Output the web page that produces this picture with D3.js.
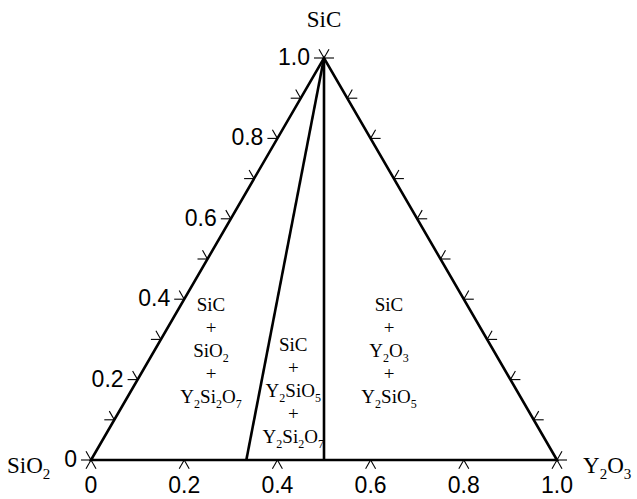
<!DOCTYPE html>
<html>
<head>
<meta charset="utf-8">
<script src="https://cdn.jsdelivr.net/npm/d3@7"></script>
<style>
  body { margin: 0; background: #fff; }
</style>
</head>
<body>
<div id="container"></div>
<script>
/* CONSTANTS AND GLOBALS */
const width = 637,
  height = 499,
  margin = {top: 58, bottom: 39, left: 91, right: 80},
  tickLen = 10;

/* DATA */
// corners of the diagram: bottom-left, bottom-right, top
const vertexNames = ["SiO2", "Y2O3", "SiC"];
// compounds on the SiO2-Y2O3 edge, tied to the SiC corner
const compounds = ["Y2Si2O7", "Y2SiO5"];
const compoundY2O3 = [1 / 3, 0.5];
// ticks along the edges
const edgeTicks = [0, 0.1, 0.2, 0.3, 0.4, 0.5, 0.6, 0.7, 0.8, 0.9, 1.0];
const bottomTicks = [0, 0.2, 0.4, 0.6, 0.8, 1.0];
const tickLabels = [0, 0.2, 0.4, 0.6, 0.8, 1.0];
// phase fields and where their labels sit (Y2O3, SiC fractions)
const regionPhases = [
  ["SiC", "+", "SiO2", "+", "Y2Si2O7"],
  ["SiC", "+", "Y2SiO5", "+", "Y2Si2O7"],
  ["SiC", "+", "Y2O3", "+", "Y2SiO5"]
];
const regionY2O3 = [0.122, 0.348, 0.504];
const regionSiC = [0.271, 0.172, 0.271];

/* SCALES */
const xScale = d3.scaleLinear()
  .domain([0, 1])
  .range([margin.left, width - margin.right]);

const yScale = d3.scaleLinear()
  .domain([0, 1])
  .range([height - margin.bottom, margin.top]);

// ternary -> screen (b = Y2O3 fraction, c = SiC fraction)
function pt(b, c) {
  return [xScale(b + c / 2), yScale(c)];
}

const fmt = d => d === 0 ? "0" : d3.format(".1f")(d);

// write a formula with numbers as subscripts
function formula(sel, str, subSize, shift) {
  const parts = str.match(/\d+|\D+/g);
  let down = false;
  parts.forEach(p => {
    const isNum = /^\d+$/.test(p);
    const t = sel.append("tspan").text(p);
    if (isNum) {
      t.attr("font-size", subSize).attr("dy", shift);
      down = true;
    } else if (down) {
      t.attr("dy", -shift);
      down = false;
    }
  });
}

/* SVG */
const svg = d3.select("#container")
  .append("svg")
  .attr("width", width)
  .attr("height", height);

/* TICKS */
const tickG = svg.append("g")
  .attr("stroke", "#000")
  .attr("stroke-width", 1.1)
  .attr("fill", "none");

const dirs = {
  left: [[-1, 0], [-0.5, -0.866]],
  right: [[1, 0], [0.5, -0.866]],
  bottom: [[-0.5, 0.866], [0.5, 0.866]]
};

function drawTicks(values, toPoint, dd) {
  values.forEach(v => {
    const p = toPoint(v);
    dd.forEach(d => {
      tickG.append("line")
        .attr("x1", p[0]).attr("y1", p[1])
        .attr("x2", p[0] + d[0] * tickLen)
        .attr("y2", p[1] + d[1] * tickLen);
    });
  });
}

drawTicks(edgeTicks, v => pt(0, v), dirs.left);
drawTicks(edgeTicks, v => pt(1 - v, v), dirs.right);
drawTicks(bottomTicks, v => pt(v, 0), dirs.bottom);

/* TRIANGLE AND TIE LINES */
svg.append("path")
  .attr("d", d3.line()([pt(0, 0), pt(1, 0), pt(0, 1)]) + "Z")
  .attr("fill", "none")
  .attr("stroke", "#000")
  .attr("stroke-width", 2.6)
  .attr("stroke-linejoin", "miter");

svg.selectAll(".tie")
  .data(compoundY2O3)
  .join("line")
  .attr("class", "tie")
  .attr("x1", pt(0, 1)[0]).attr("y1", pt(0, 1)[1])
  .attr("x2", d => pt(d, 0)[0]).attr("y2", d => pt(d, 0)[1])
  .attr("stroke", "#000")
  .attr("stroke-width", 2.6);

/* TICK LABELS */
svg.selectAll(".leftLabel")
  .data(tickLabels)
  .join("text")
  .attr("class", "leftLabel")
  .attr("x", d => pt(0, d)[0] - 14)
  .attr("y", d => pt(0, d)[1] + 7)
  .attr("text-anchor", "end")
  .attr("font-family", "Liberation Sans, Arial, sans-serif")
  .attr("font-size", 23)
  .text(fmt);

svg.selectAll(".bottomLabel")
  .data(tickLabels)
  .join("text")
  .attr("class", "bottomLabel")
  .attr("x", d => pt(d, 0)[0])
  .attr("y", yScale(0) + 33)
  .attr("text-anchor", "middle")
  .attr("font-family", "Liberation Sans, Arial, sans-serif")
  .attr("font-size", 23)
  .text(fmt);

/* VERTEX LABELS */
const serif = "Liberation Serif, Times New Roman, serif";
const vPos = [
  {x: 7, y: pt(0, 0)[1] + 13, anchor: "start"},
  {x: pt(1, 0)[0] + 26, y: pt(1, 0)[1] + 13, anchor: "start"},
  {x: pt(0, 1)[0], y: pt(0, 1)[1] - 31, anchor: "middle"}
];
vertexNames.forEach((name, i) => {
  const t = svg.append("text")
    .attr("x", vPos[i].x)
    .attr("y", vPos[i].y)
    .attr("text-anchor", vPos[i].anchor)
    .attr("font-family", serif)
    .attr("font-size", 23);
  formula(t, name, 15, 6);
});

/* REGION LABELS */
const lineGap = 23;
regionPhases.forEach((lines, i) => {
  const c = pt(regionY2O3[i], regionSiC[i]);
  lines.forEach((s, j) => {
    const t = svg.append("text")
      .attr("x", c[0])
      .attr("y", c[1] + (j - 2) * lineGap + 6)
      .attr("text-anchor", "middle")
      .attr("font-family", serif)
      .attr("font-size", 19);
    formula(t, s, 12, 5);
  });
});
</script>
</body>
</html>
